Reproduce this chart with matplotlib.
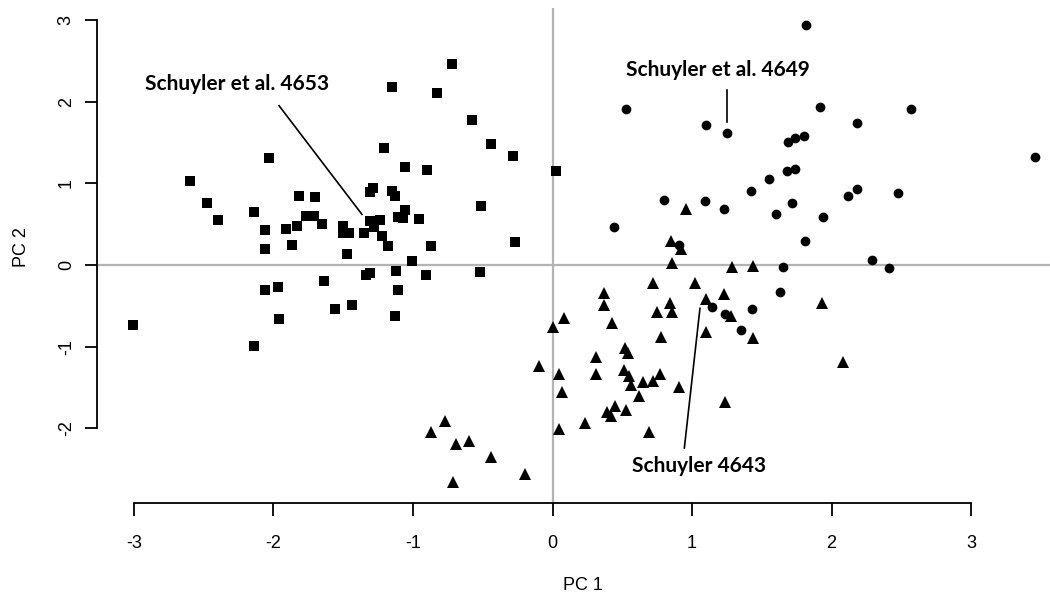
import numpy as np
import matplotlib
matplotlib.use("Agg")
import matplotlib.pyplot as plt

plt.rcParams["font.family"] = ["Liberation Sans", "DejaVu Sans"]
plt.rcParams["axes.unicode_minus"] = False

# group 1 (squares)
sq_x = [-3.01, -2.60, -2.48, -2.40, -2.03, -2.14, -2.06, -2.06, -1.91, -1.83,
        -1.82, -1.70, -1.77, -1.71, -1.65, -1.87, -1.50, -1.50, -1.46, -1.47,
        -2.06, -1.97, -1.64, -1.56, -1.96, -2.14, -1.44, -0.72, -1.15, -0.83,
        -0.58, -0.44, -0.28, 0.025, -1.21, -1.06, -0.90, -0.51, -1.31, -1.29,
        -1.15, -1.13, -1.06, -1.11, -1.07, -0.96, -1.31, -1.24, -1.28, -1.22,
        -1.18, -1.35, -0.87, -0.27, -1.01, -1.12, -0.91, -0.52, -1.34, -1.31,
        -1.11, -1.13]
sq_y = [-0.74, 1.03, 0.76, 0.55, 1.31, 0.65, 0.43, 0.20, 0.44, 0.48,
        0.84, 0.83, 0.60, 0.60, 0.50, 0.24, 0.48, 0.39, 0.39, 0.13,
        -0.31, -0.27, -0.20, -0.54, -0.66, -0.99, -0.49, 2.46, 2.18, 2.10,
        1.78, 1.48, 1.33, 1.15, 1.43, 1.20, 1.16, 0.72, 0.89, 0.94,
        0.90, 0.85, 0.67, 0.59, 0.58, 0.56, 0.54, 0.55, 0.47, 0.36,
        0.23, 0.39, 0.23, 0.28, 0.05, -0.07, -0.12, -0.08, -0.12, -0.10,
        -0.31, -0.62]

# group 2 (triangles)
tri_x = [0.08, 0.00, -0.10, 0.05, 0.07, 0.05, 0.23, 0.31, 0.31, -0.77,
         -0.87, -0.69, -0.60, -0.44, -0.20, -0.71, 0.72, 1.02, 0.37, 0.37,
         0.84, 0.86, 0.75, 1.10, 1.23, 1.28, 1.44, 1.10, 0.43, 0.78,
         0.52, 0.54, 0.51, 0.55, 0.56, 0.65, 0.72, 0.77, 0.62, 0.91,
         0.39, 0.45, 0.42, 0.53, 0.69, 1.24, 0.96, 0.85, 0.92, 0.86,
         1.29, 1.44, 1.93, 2.08]
tri_y = [-0.65, -0.76, -1.24, -1.34, -1.56, -2.01, -1.93, -1.13, -1.33, -1.91,
         -2.04, -2.19, -2.16, -2.35, -2.56, -2.66, -0.22, -0.22, -0.34, -0.49,
         -0.47, -0.58, -0.57, -0.41, -0.36, -0.62, -0.89, -0.82, -0.71, -0.88,
         -1.01, -1.08, -1.28, -1.36, -1.47, -1.43, -1.42, -1.33, -1.60, -1.49,
         -1.80, -1.73, -1.85, -1.77, -2.04, -1.68, 0.69, 0.29, 0.19, 0.03,
         -0.03, -0.01, -0.46, -1.19]

# group 3 (circles)
circ_x = [1.63, 1.14, 1.24, 1.43, 1.35, 1.82, 0.53, 1.10, 1.25, 1.69,
          1.74, 1.80, 1.68, 1.74, 1.55, 1.42, 0.80, 1.09, 1.23, 1.60,
          1.72, 0.44, 1.81, 1.65, 0.91, 1.92, 2.57, 2.18, 3.46, 2.18,
          2.12, 2.48, 1.94, 2.29, 2.41]
circ_y = [-0.33, -0.52, -0.60, -0.54, -0.79, 2.94, 1.91, 1.71, 1.62, 1.50,
          1.56, 1.58, 1.15, 1.17, 1.05, 0.91, 0.80, 0.78, 0.69, 0.63,
          0.76, 0.47, 0.29, -0.03, 0.25, 1.94, 1.91, 1.74, 1.32, 0.93,
          0.84, 0.88, 0.59, 0.06, -0.04]

# labels: text, text position, line start, line end
labels = ["Schuyler et al. 4653", "Schuyler et al. 4649", "Schuyler 4643"]
label_xy = [(-2.26, 2.22), (1.186, 2.39), (1.05, -2.46)]
line_from = [(-1.96, 1.95), (1.25, 2.14), (1.057, -0.53)]
line_to = [(-1.366, 0.62), (1.25, 1.75), (0.945, -2.24)]

fig = plt.figure(figsize=(10.5, 5.97), dpi=100)
ax = fig.add_axes([97 / 1050, 1 - 503 / 597, 1 - 97 / 1050, (503 - 8) / 597])

ax.axhline(0, color="#b3b3b3", lw=1.6, zorder=1)
ax.axvline(0, color="#b3b3b3", lw=1.6, zorder=1)

ax.plot(sq_x, sq_y, "s", color="black", ms=7.6, mew=0, zorder=3)
ax.plot(tri_x, tri_y, "^", color="black", ms=9, mew=0, zorder=3)
ax.plot(circ_x, circ_y, "o", color="black", ms=7, mew=0, zorder=3)

for txt, (tx, ty), (x0, y0), (x1, y1) in zip(labels, label_xy, line_from, line_to):
    ax.plot([x0, x1], [y0, y1], color="black", lw=1.2, zorder=2)
    ax.text(tx, ty, txt, ha="center", va="center", fontsize=15,
            fontweight="bold", family=["Lato", "DejaVu Sans"])

ax.set_xlim(-3.265, 3.566)
ax.set_ylim(-2.913, 3.146)

for s in ["top", "right"]:
    ax.spines[s].set_visible(False)
ax.spines["left"].set_bounds(-2, 3)
ax.spines["bottom"].set_bounds(-3, 3)
ax.spines["left"].set_linewidth(1.3)
ax.spines["bottom"].set_linewidth(1.3)

ax.set_xticks([-3, -2, -1, 0, 1, 2, 3])
ax.set_yticks([-2, -1, 0, 1, 2, 3])
ax.tick_params(length=9, width=1.3, labelsize=13)
ax.tick_params(axis="x", pad=14)
ax.tick_params(axis="y", pad=7)
for lab in ax.get_yticklabels():
    lab.set_rotation(90)
    lab.set_va("center")

fig.text(22 / 1050, 1 - 247 / 597, "PC 2", rotation=90, ha="center", va="center", fontsize=13)
fig.text(583 / 1050, 1 - 586 / 597, "PC 1", ha="center", va="center", fontsize=13)

plt.savefig("out.png", dpi=100)
